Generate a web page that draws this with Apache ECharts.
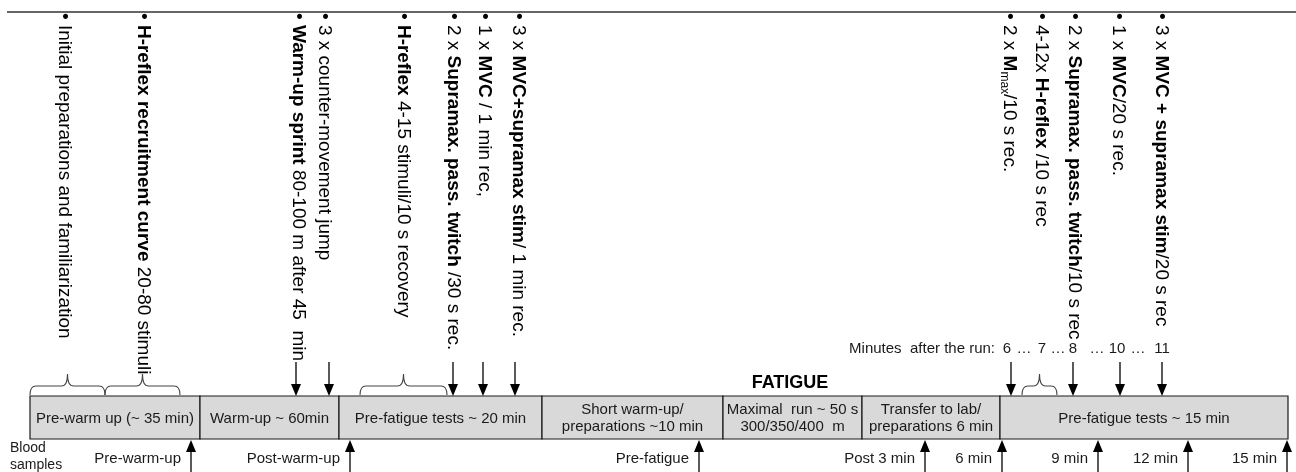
<!DOCTYPE html>
<html><head><meta charset="utf-8">
<script src="https://cdn.jsdelivr.net/npm/echarts@6/dist/echarts.min.js"></script>
<style>html,body{margin:0;padding:0;background:#fff}#c{width:1296px;height:472px}</style>
</head><body><div id="c"></div>
<script>
// ---- data ----
const phaseBounds = [30, 200, 339, 542, 723, 862, 1000, 1288];
const phaseLabels = [
  'Pre-warm up (~ 35 min)',
  'Warm-up ~ 60min',
  'Pre-fatigue tests ~ 20 min',
  'Short warm-up/\npreparations ~10 min',
  'Maximal  run ~ 50 s\n300/350/400  m',
  'Transfer to lab/\npreparations 6 min',
  'Pre-fatigue tests ~ 15 min'
];
const testArrowX = [296, 329, 453, 483, 515, 1011, 1073, 1120, 1162];
const bloodArrowX = [191, 350, 699, 925, 1002, 1098, 1188, 1287];
const bloodLabels = ['Pre-warm-up', 'Post-warm-up', 'Pre-fatigue', 'Post 3 min', '6 min', '9 min', '12 min', '15 min'];
const braceStart = [30, 105, 360, 1022];
const braceEnd = [105, 180, 447, 1057];
const noteX = [63, 142, 297, 323, 402, 452, 483, 517, 1008, 1040, 1073, 1117, 1160];
const noteText = [
  '• Initial preparations and familiarization',
  '• {b|H-reflex recruitment curve} 20-80 stimuli',
  '• {b|Warm-up sprint} 80-100 m after 45  min',
  '• 3 x counter-movement jump',
  '• {b|H-reflex} 4-15 stimuli/10 s recovery',
  '• 2 x {b|Supramax. pass. twitch} /30 s rec.',
  '• 1 x {b|MVC} / 1 min rec,',
  '• 3 x {b|MVC+supramax stim}/ 1 min rec.',
  '• 2 x {b|M}{sub|max}/10 s rec.',
  '• 4-12x {b|H-reflex} /10 s rec',
  '• 2 x {b|Supramax. pass. twitch}/10 s rec',
  '• 1 x {b|MVC}/20 s rec.',
  '• 3 x {b|MVC + supramax stim}/20 s rec'
];
const minuteLabels = ['6', '…', '7', '…', '8', '…', '10', '…', '11'];
const minuteX = [1007, 1024, 1042, 1058, 1073, 1097, 1117, 1138, 1162];
const minuteTitle = 'Minutes  after the run:';
const fatigueTitle = 'FATIGUE';
const bloodTitle = 'Blood\nsamples';

// ---- layout ----
const FONT = '"Liberation Sans", Arial, sans-serif';
const BAR_TOP = 396, BAR_BOTTOM = 439;
const W = 1296, H = 472;

const chart = echarts.init(document.getElementById('c'), null, {renderer: 'canvas'});

function phaseItem(params, api) {
  const i = params.dataIndex;
  const p0 = api.coord([api.value(0), BAR_TOP]);
  const p1 = api.coord([api.value(1), BAR_BOTTOM]);
  return {type: 'group', children: [
    {type: 'rect', shape: {x: p0[0], y: p0[1], width: p1[0] - p0[0], height: p1[1] - p0[1]},
     style: {fill: '#d9d9d9', stroke: '#1a1a1a', lineWidth: 1.2}},
    {type: 'text', style: {text: phaseLabels[i], x: (p0[0] + p1[0]) / 2, y: (p0[1] + p1[1]) / 2 + 1,
      align: 'center', verticalAlign: 'middle', fontSize: 15, lineHeight: 17, fontFamily: FONT, fill: '#1a1a1a'}}
  ]};
}

function downArrowItem(params, api) {
  const a = api.coord([api.value(0), 362]);
  const b = api.coord([api.value(0), BAR_TOP]);
  const x = a[0];
  return {type: 'group', children: [
    {type: 'line', shape: {x1: x, y1: a[1], x2: x, y2: b[1] - 8}, style: {stroke: '#000', lineWidth: 1.3}},
    {type: 'polygon', shape: {points: [[x - 5, b[1] - 12], [x + 5, b[1] - 12], [x, b[1]]]}, style: {fill: '#000'}}
  ]};
}

function upArrowItem(params, api) {
  const i = params.dataIndex;
  const a = api.coord([api.value(0), H]);
  const b = api.coord([api.value(0), BAR_BOTTOM + 1]);
  const x = a[0];
  return {type: 'group', children: [
    {type: 'line', shape: {x1: x, y1: a[1], x2: x, y2: b[1] + 8}, style: {stroke: '#000', lineWidth: 1.3}},
    {type: 'polygon', shape: {points: [[x - 5, b[1] + 12], [x + 5, b[1] + 12], [x, b[1]]]}, style: {fill: '#000'}},
    {type: 'text', style: {text: bloodLabels[i], x: x - 10, y: b[1] + 19, align: 'right', verticalAlign: 'middle',
      fontSize: 15, fontFamily: FONT, fill: '#1a1a1a'}}
  ]};
}

function braceItem(params, api) {
  const p0 = api.coord([api.value(0), BAR_TOP - 1]);
  const p1 = api.coord([api.value(1), BAR_TOP - 1]);
  const x0 = p0[0], x1 = p1[0], y0 = p0[1];
  const yh = y0 - 9, yt = y0 - 21, xc = (x0 + x1) / 2, r = 6;
  const d = `M${x0},${y0} Q${x0},${yh} ${x0 + r},${yh} L${xc - r},${yh} Q${xc},${yh} ${xc},${yt} ` +
            `Q${xc},${yh} ${xc + r},${yh} L${x1 - r},${yh} Q${x1},${yh} ${x1},${y0}`;
  return {type: 'path', shape: {pathData: d}, style: {fill: 'none', stroke: '#444', lineWidth: 1.1}};
}

function noteItem(params, api) {
  const i = params.dataIndex;
  const p = api.coord([api.value(0), 13]);
  return {type: 'text', x: p[0] + 1, y: p[1], rotation: -Math.PI / 2,
    style: {text: noteText[i], x: 0, y: 0, align: 'left', verticalAlign: 'middle',
      fontSize: 19, fontFamily: FONT, fill: '#000', lineHeight: 21,
      rich: {
        b: {fontWeight: 'bold', fontSize: 19, fontFamily: FONT, fill: '#000'},
        sub: {fontSize: 12, fontFamily: FONT, fill: '#000', padding: [10, 0, 0, 0]}
      }}};
}

function minuteItem(params, api) {
  const i = params.dataIndex;
  const p = api.coord([api.value(0), 349]);
  return {type: 'text', style: {text: minuteLabels[i], x: p[0], y: p[1], align: 'center', verticalAlign: 'middle',
    fontSize: 15, fontFamily: FONT, fill: '#1a1a1a'}};
}

function staticItem(params, api) {
  const l0 = api.coord([7, 12]), l1 = api.coord([W, 12]);
  const mt = api.coord([995, 349]);
  const ft = api.coord([790, 383]);
  const bt = api.coord([10, 457]);
  return {type: 'group', children: [
    {type: 'line', shape: {x1: l0[0], y1: l0[1], x2: l1[0], y2: l1[1]}, style: {stroke: '#333', lineWidth: 1.6}},
    {type: 'text', style: {text: minuteTitle, x: mt[0], y: mt[1], align: 'right', verticalAlign: 'middle',
      fontSize: 15, fontFamily: FONT, fill: '#1a1a1a'}},
    {type: 'text', style: {text: fatigueTitle, x: ft[0], y: ft[1], align: 'center', verticalAlign: 'middle',
      fontSize: 18, fontWeight: 'bold', fontFamily: FONT, fill: '#000'}},
    {type: 'text', style: {text: bloodTitle, x: bt[0], y: bt[1], align: 'left', verticalAlign: 'middle',
      fontSize: 14, lineHeight: 17, fontFamily: FONT, fill: '#1a1a1a'}}
  ]};
}

const option = {
  animation: false,
  backgroundColor: '#fff',
  grid: {left: 0, right: 0, top: 0, bottom: 0},
  xAxis: {type: 'value', min: 0, max: W, show: false},
  yAxis: {type: 'value', min: 0, max: H, inverse: true, show: false},
  series: [
    {type: 'custom', renderItem: staticItem, data: [[0]], silent: true},
    {type: 'custom', renderItem: phaseItem, data: phaseLabels.map((_, i) => [phaseBounds[i], phaseBounds[i + 1]]), silent: true},
    {type: 'custom', renderItem: braceItem, data: braceStart.map((s, i) => [s, braceEnd[i]]), silent: true},
    {type: 'custom', renderItem: downArrowItem, data: testArrowX.map(x => [x]), silent: true},
    {type: 'custom', renderItem: upArrowItem, data: bloodArrowX.map(x => [x]), silent: true},
    {type: 'custom', renderItem: noteItem, data: noteX.map(x => [x]), silent: true},
    {type: 'custom', renderItem: minuteItem, data: minuteX.map(x => [x]), silent: true}
  ]
};
chart.setOption(option);
</script></body></html>
